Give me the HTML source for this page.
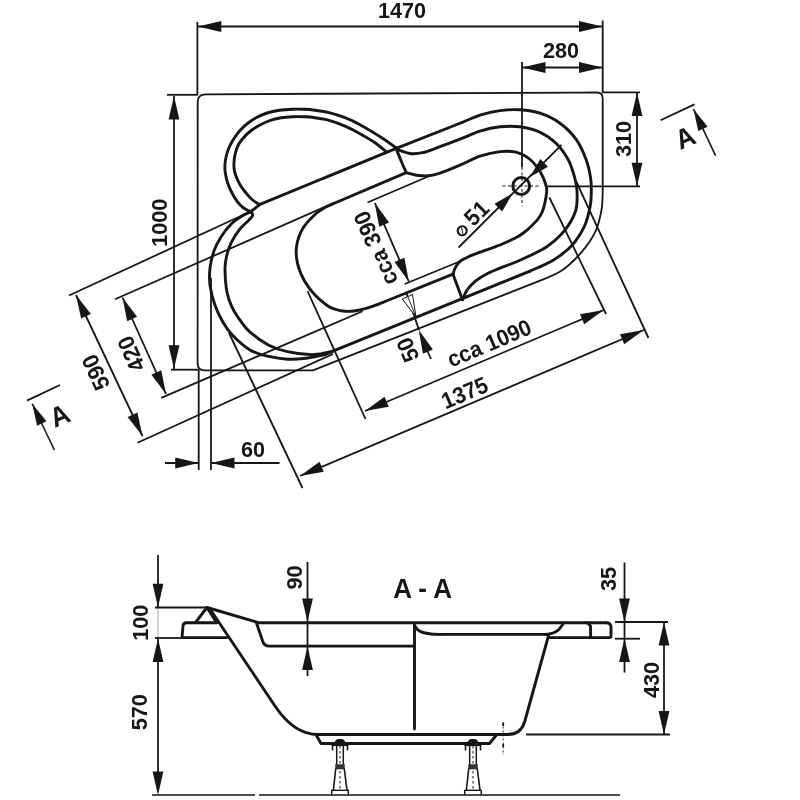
<!DOCTYPE html>
<html><head><meta charset="utf-8"><style>
html,body{margin:0;padding:0;background:#fff;}
svg{display:block;}
text{font-family:"Liberation Sans",sans-serif;font-weight:bold;fill:#161616;}
</style></head><body>
<svg width="800" height="800" viewBox="0 0 800 800">
<defs><filter id="soft" x="0" y="0" width="800" height="800" filterUnits="userSpaceOnUse"><feGaussianBlur stdDeviation="0.5"/></filter></defs>
<rect width="800" height="800" fill="#fff"/>
<g filter="url(#soft)">
<path d="M197.7,102 Q197.7,94.3 205.5,94.3 L597,92.5 Q602.7,92.5 602.7,98.5 L602.7,192 C602.50,195.00 602.70,203.43 601.50,210.00 C600.30,216.57 598.85,224.35 595.50,231.40 C592.15,238.45 587.15,245.70 581.40,252.30 C575.65,258.90 568.73,265.93 561.00,271.00 C553.27,276.07 539.33,280.75 535.00,282.70 L313,370.3 L204.5,370.3 Q197.6,370.3 197.6,363.5 Z" fill="none" stroke="#161616" stroke-width="1.80" stroke-linecap="round" stroke-linejoin="round" />
<path d="M250.50,211.80 C249.42,211.22 246.00,209.73 244.00,208.30 C242.00,206.87 240.37,205.50 238.50,203.20 C236.63,200.90 234.55,197.70 232.80,194.50 C231.05,191.30 229.25,187.58 228.00,184.00 C226.75,180.42 225.80,176.33 225.30,173.00 C224.80,169.67 224.80,167.00 225.00,164.00 C225.20,161.00 225.75,157.92 226.50,155.00 C227.25,152.08 228.25,149.25 229.50,146.50 C230.75,143.75 232.25,141.17 234.00,138.50 C235.75,135.83 237.75,133.00 240.00,130.50 C242.25,128.00 244.75,125.67 247.50,123.50 C250.25,121.33 253.25,119.25 256.50,117.50 C259.75,115.75 263.17,114.20 267.00,113.00 C270.83,111.80 275.25,110.92 279.50,110.30 C283.75,109.67 288.42,109.42 292.50,109.25 C296.58,109.08 300.25,109.14 304.00,109.30 C307.75,109.46 310.67,109.62 315.00,110.20 C319.33,110.78 325.00,111.55 330.00,112.80 C335.00,114.05 340.00,115.72 345.00,117.70 C350.00,119.68 353.75,121.28 360.00,124.70 C366.25,128.12 376.46,134.32 382.50,138.20 C388.54,142.08 393.96,146.37 396.25,148.00" fill="none" stroke="#161616" stroke-width="2.90" stroke-linecap="round" stroke-linejoin="round" />
<path d="M259.50,204.60 C258.25,203.75 254.25,201.43 252.00,199.50 C249.75,197.57 247.92,195.33 246.00,193.00 C244.08,190.67 242.08,188.08 240.50,185.50 C238.92,182.92 237.53,180.08 236.50,177.50 C235.47,174.92 234.72,172.50 234.30,170.00 C233.88,167.50 233.83,165.25 234.00,162.50 C234.17,159.75 234.55,156.50 235.30,153.50 C236.05,150.50 237.10,147.17 238.50,144.50 C239.90,141.83 241.70,139.75 243.70,137.50 C245.70,135.25 247.87,133.05 250.50,131.00 C253.13,128.95 256.25,126.95 259.50,125.20 C262.75,123.45 266.42,121.73 270.00,120.50 C273.58,119.27 277.25,118.42 281.00,117.80 C284.75,117.17 288.67,116.92 292.50,116.75 C296.33,116.58 300.25,116.64 304.00,116.80 C307.75,116.96 310.67,117.07 315.00,117.70 C319.33,118.33 325.00,119.18 330.00,120.60 C335.00,122.02 340.00,124.02 345.00,126.20 C350.00,128.38 355.00,130.95 360.00,133.70 C365.00,136.45 370.58,139.65 375.00,142.70 C379.42,145.75 384.58,150.45 386.50,152.00" fill="none" stroke="#161616" stroke-width="2.90" stroke-linecap="round" stroke-linejoin="round" />
<path d="M250.50,211.80 L260.00,204.40 L396.25,148.30 L462.00,122.50" fill="none" stroke="#161616" stroke-width="2.90" stroke-linecap="round" stroke-linejoin="round" />
<path d="M462.00,122.50 C465.00,121.28 473.67,117.18 480.00,115.20 C486.33,113.22 493.33,111.50 500.00,110.60 C506.67,109.70 513.33,109.37 520.00,109.80 C526.67,110.23 533.33,110.97 540.00,113.20 C546.67,115.43 554.00,118.87 560.00,123.20 C566.00,127.53 571.67,133.20 576.00,139.20 C580.33,145.20 583.58,152.87 586.00,159.20 C588.42,165.53 589.62,171.87 590.50,177.20 C591.38,182.53 591.38,186.20 591.30,191.20 C591.22,196.20 591.22,201.20 590.00,207.20 C588.78,213.20 587.00,220.87 584.00,227.20 C581.00,233.53 577.00,239.78 572.00,245.20 C567.00,250.62 561.00,255.37 554.00,259.70 C547.00,264.03 534.00,269.28 530.00,271.20" fill="none" stroke="#161616" stroke-width="2.90" stroke-linecap="round" stroke-linejoin="round" />
<path d="M530.00,271.20 L331.00,351.80" fill="none" stroke="#161616" stroke-width="2.90" stroke-linecap="round" stroke-linejoin="round" />
<path d="M250.00,212.20 C248.54,212.91 244.38,214.49 241.25,216.45 C238.12,218.41 234.58,220.62 231.25,223.95 C227.92,227.28 224.17,231.87 221.25,236.45 C218.33,241.03 215.62,246.16 213.75,251.45 C211.88,256.74 210.62,262.57 210.00,268.20 C209.38,273.82 209.17,279.03 210.00,285.20 C210.83,291.37 212.83,299.03 215.00,305.20 C217.17,311.37 220.08,317.20 223.00,322.20 C225.92,327.20 228.00,330.58 232.50,335.20 C237.00,339.82 243.96,346.36 250.00,349.90 C256.04,353.44 262.50,354.90 268.75,356.45 C275.00,358.00 281.25,358.91 287.50,359.20 C293.75,359.49 300.00,358.97 306.25,358.20 C312.50,357.43 320.21,355.93 325.00,354.60 C329.79,353.27 333.33,350.93 335.00,350.20" fill="none" stroke="#161616" stroke-width="2.90" stroke-linecap="round" stroke-linejoin="round" />
<path d="M251.90,212.70 C252.00,213.22 253.03,214.55 252.50,215.80 C251.97,217.05 250.83,218.01 248.75,220.20 C246.67,222.39 242.92,225.20 240.00,228.95 C237.08,232.70 233.54,237.91 231.25,242.70 C228.96,247.49 227.29,253.12 226.25,257.70 C225.21,262.28 224.88,264.45 225.00,270.20 C225.12,275.95 225.83,286.03 227.00,292.20 C228.17,298.37 229.83,302.53 232.00,307.20 C234.17,311.87 237.00,316.03 240.00,320.20 C243.00,324.37 245.21,328.03 250.00,332.20 C254.79,336.37 262.50,341.95 268.75,345.20 C275.00,348.45 280.29,350.13 287.50,351.70 C294.71,353.27 304.75,354.58 312.00,354.60 C319.25,354.62 327.83,352.27 331.00,351.80" fill="none" stroke="#161616" stroke-width="2.90" stroke-linecap="round" stroke-linejoin="round" />
<path d="M396.25,149.20 C398.54,149.92 405.62,152.92 410.00,153.50 C414.38,154.08 417.50,153.83 422.50,152.70 C427.50,151.57 433.75,148.95 440.00,146.70 C446.25,144.45 453.33,141.78 460.00,139.20 C466.67,136.62 473.33,133.27 480.00,131.20 C486.67,129.13 493.33,127.53 500.00,126.80 C506.67,126.07 513.33,125.90 520.00,126.80 C526.67,127.70 534.00,129.47 540.00,132.20 C546.00,134.93 551.33,138.70 556.00,143.20 C560.67,147.70 565.00,153.87 568.00,159.20 C571.00,164.53 572.50,169.87 574.00,175.20 C575.50,180.53 576.75,185.20 577.00,191.20 C577.25,197.20 577.67,204.53 575.50,211.20 C573.33,217.87 568.92,225.20 564.00,231.20 C559.08,237.20 553.33,242.37 546.00,247.20 C538.67,252.03 527.67,256.70 520.00,260.20 C512.33,263.70 505.33,266.03 500.00,268.20 C494.67,270.37 492.00,271.12 488.00,273.20 C484.00,275.28 479.50,277.87 476.00,280.70 C472.50,283.53 469.25,287.03 467.00,290.20 C464.75,293.37 463.25,298.12 462.50,299.70" fill="none" stroke="#161616" stroke-width="2.90" stroke-linecap="round" stroke-linejoin="round" />
<path d="M396.25,149.00 C397.08,151.03 399.58,157.25 401.25,161.20 C402.92,165.15 405.42,170.78 406.25,172.70" fill="none" stroke="#161616" stroke-width="2.90" stroke-linecap="round" stroke-linejoin="round" />
<path d="M453.00,274.20 L462.50,299.70" fill="none" stroke="#161616" stroke-width="2.90" stroke-linecap="round" stroke-linejoin="round" />
<path d="M406.25,172.70 C407.92,173.12 412.50,174.68 416.25,175.20 C420.00,175.72 424.79,176.13 428.75,175.80 C432.71,175.47 434.79,174.97 440.00,173.20 C445.21,171.43 453.33,168.03 460.00,165.20 C466.67,162.37 473.33,158.47 480.00,156.20 C486.67,153.93 494.00,152.27 500.00,151.60 C506.00,150.93 511.08,150.97 516.00,152.20 C520.92,153.43 525.42,155.67 529.50,159.00 C533.58,162.33 537.72,167.70 540.50,172.20 C543.28,176.70 545.20,182.50 546.20,186.00 C547.20,189.50 546.65,190.70 546.50,193.20 C546.35,195.70 545.97,198.00 545.30,201.00 C544.63,204.00 543.72,208.20 542.50,211.20 C541.28,214.20 539.88,216.50 538.00,219.00 C536.12,221.50 533.58,223.95 531.25,226.20 C528.92,228.45 526.50,230.62 524.00,232.50 C521.50,234.38 520.25,235.42 516.25,237.50 C512.25,239.58 506.04,242.55 500.00,245.00 C493.96,247.45 485.33,250.20 480.00,252.20 C474.67,254.20 471.25,255.53 468.00,257.00 C464.75,258.47 462.42,259.55 460.50,261.00 C458.58,262.45 457.53,264.20 456.50,265.70 C455.47,267.20 454.88,268.58 454.30,270.00 C453.72,271.42 453.22,273.50 453.00,274.20" fill="none" stroke="#161616" stroke-width="2.90" stroke-linecap="round" stroke-linejoin="round" />
<path d="M453.00,274.20 L385.00,301.50" fill="none" stroke="#161616" stroke-width="2.90" stroke-linecap="round" stroke-linejoin="round" />
<path d="M385.00,301.50 C382.67,302.38 375.67,305.30 371.00,306.80 C366.33,308.30 361.33,309.75 357.00,310.50 C352.67,311.25 348.83,311.58 345.00,311.30 C341.17,311.02 336.96,309.77 334.00,308.80 C331.04,307.83 330.42,307.80 327.25,305.50 C324.08,303.20 318.79,299.08 315.00,295.00 C311.21,290.92 307.42,286.25 304.50,281.00 C301.58,275.75 298.82,269.33 297.50,263.50 C296.18,257.67 295.73,251.83 296.60,246.00 C297.48,240.17 299.68,233.75 302.75,228.50 C305.82,223.25 311.29,218.00 315.00,214.50 C318.71,211.00 322.08,209.25 325.00,207.50 C327.92,205.75 331.25,204.58 332.50,204.00" fill="none" stroke="#161616" stroke-width="2.90" stroke-linecap="round" stroke-linejoin="round" />
<path d="M332.50,204.00 L406.25,172.70" fill="none" stroke="#161616" stroke-width="2.90" stroke-linecap="round" stroke-linejoin="round" />
<circle cx="521.2" cy="186" r="8.4" fill="none" stroke="#161616" stroke-width="3"/>
<line x1="522.00" y1="62.00" x2="522.00" y2="167.00" stroke="#161616" stroke-width="1.80" />
<line x1="522.00" y1="167.00" x2="522.00" y2="206.00" stroke="#161616" stroke-width="1.00" stroke-dasharray="3,2.5"/>
<line x1="502.50" y1="186.00" x2="541.00" y2="186.00" stroke="#161616" stroke-width="1.00" stroke-dasharray="3,2.5"/>
<line x1="197.40" y1="22.00" x2="197.40" y2="95.00" stroke="#161616" stroke-width="1.80" />
<line x1="602.70" y1="20.50" x2="602.70" y2="93.00" stroke="#161616" stroke-width="1.80" />
<line x1="197.80" y1="26.50" x2="602.50" y2="26.50" stroke="#161616" stroke-width="1.80" />
<polygon points="197.80,26.50 221.30,21.10 221.30,31.90" fill="#161616"/>
<polygon points="602.50,26.50 579.00,31.90 579.00,21.10" fill="#161616"/>
<text x="0" y="7.88" transform="translate(402.00,9.50) rotate(0.00) scale(0.985,1.045)" font-size="22.0" text-anchor="middle" letter-spacing="0.00">1470</text>
<line x1="522.00" y1="67.50" x2="602.50" y2="67.50" stroke="#161616" stroke-width="1.80" />
<polygon points="522.00,67.50 545.50,62.10 545.50,72.90" fill="#161616"/>
<polygon points="602.50,67.50 579.00,72.90 579.00,62.10" fill="#161616"/>
<text x="0" y="7.88" transform="translate(561.00,50.00) rotate(0.00) scale(0.985,1.045)" font-size="22.0" text-anchor="middle" letter-spacing="0.00">280</text>
<line x1="602.00" y1="92.30" x2="640.00" y2="92.30" stroke="#161616" stroke-width="1.80" />
<line x1="547.50" y1="186.30" x2="640.00" y2="186.30" stroke="#161616" stroke-width="1.80" />
<line x1="637.00" y1="92.50" x2="637.00" y2="186.30" stroke="#161616" stroke-width="1.80" />
<polygon points="637.00,92.50 642.40,116.00 631.60,116.00" fill="#161616"/>
<polygon points="637.00,186.30 631.60,162.80 642.40,162.80" fill="#161616"/>
<text x="0" y="7.88" transform="translate(622.70,139.00) rotate(-90.00) scale(0.985,1.045)" font-size="22.0" text-anchor="middle" letter-spacing="0.00">310</text>
<line x1="167.00" y1="94.80" x2="198.00" y2="94.80" stroke="#161616" stroke-width="1.80" />
<line x1="171.00" y1="369.70" x2="198.00" y2="369.70" stroke="#161616" stroke-width="1.80" />
<line x1="174.00" y1="96.00" x2="174.00" y2="369.00" stroke="#161616" stroke-width="1.80" />
<polygon points="174.00,96.00 179.40,119.50 168.60,119.50" fill="#161616"/>
<polygon points="174.00,368.70 168.60,345.20 179.40,345.20" fill="#161616"/>
<text x="0" y="7.88" transform="translate(159.00,222.70) rotate(-90.00) scale(0.985,1.045)" font-size="22.0" text-anchor="middle" letter-spacing="0.00">1000</text>
<line x1="69.00" y1="295.50" x2="250.00" y2="211.80" stroke="#161616" stroke-width="1.80" />
<line x1="137.50" y1="442.80" x2="333.00" y2="354.00" stroke="#161616" stroke-width="1.80" />
<line x1="76.00" y1="295.00" x2="142.50" y2="436.00" stroke="#161616" stroke-width="1.80" />
<polygon points="76.00,295.00 90.91,313.95 81.14,318.56" fill="#161616"/>
<polygon points="142.50,436.00 127.59,417.05 137.36,412.44" fill="#161616"/>
<text x="0" y="7.88" transform="translate(95.50,372.50) rotate(-115.00) scale(0.985,1.045)" font-size="22.0" text-anchor="middle" letter-spacing="0.00">590</text>
<line x1="115.00" y1="299.30" x2="333.00" y2="203.30" stroke="#161616" stroke-width="1.80" />
<line x1="161.25" y1="397.80" x2="362.50" y2="311.25" stroke="#161616" stroke-width="1.80" />
<line x1="122.50" y1="297.50" x2="166.00" y2="394.00" stroke="#161616" stroke-width="1.80" />
<polygon points="122.50,297.50 137.08,316.70 127.23,321.14" fill="#161616"/>
<polygon points="166.00,394.00 151.42,374.80 161.27,370.36" fill="#161616"/>
<text x="0" y="7.88" transform="translate(131.00,354.00) rotate(-115.00) scale(0.985,1.045)" font-size="22.0" text-anchor="middle" letter-spacing="0.00">420</text>
<line x1="229.00" y1="333.00" x2="302.50" y2="488.00" stroke="#161616" stroke-width="1.80" />
<line x1="576.00" y1="181.00" x2="648.50" y2="338.00" stroke="#161616" stroke-width="1.80" />
<line x1="300.00" y1="476.00" x2="643.75" y2="330.00" stroke="#161616" stroke-width="1.80" />
<polygon points="300.00,476.00 319.52,461.84 323.74,471.78" fill="#161616"/>
<polygon points="643.75,330.00 624.23,344.16 620.01,334.22" fill="#161616"/>
<text x="0" y="7.88" transform="translate(464.50,392.50) rotate(-23.00) scale(0.985,1.045)" font-size="22.0" text-anchor="middle" letter-spacing="0.00">1375</text>
<line x1="307.50" y1="291.00" x2="365.50" y2="419.00" stroke="#161616" stroke-width="1.80" />
<line x1="549.40" y1="197.50" x2="606.00" y2="314.00" stroke="#161616" stroke-width="1.80" />
<line x1="365.00" y1="411.00" x2="603.75" y2="310.00" stroke="#161616" stroke-width="1.80" />
<polygon points="365.00,411.00 384.54,396.87 388.75,406.82" fill="#161616"/>
<polygon points="603.75,310.00 584.21,324.13 580.00,314.18" fill="#161616"/>
<text x="0" y="7.77" transform="translate(489.00,343.00) rotate(-23.00) scale(0.985,1.045)" font-size="21.7" text-anchor="middle" letter-spacing="0.00">cca 1090</text>
<line x1="367.50" y1="202.50" x2="428.75" y2="176.25" stroke="#161616" stroke-width="1.80" />
<line x1="404.70" y1="284.00" x2="459.50" y2="261.50" stroke="#161616" stroke-width="1.80" />
<line x1="374.80" y1="203.00" x2="408.80" y2="281.50" stroke="#161616" stroke-width="1.80" />
<polygon points="374.80,203.00 389.10,222.42 379.18,226.71" fill="#161616"/>
<polygon points="408.80,281.50 394.50,262.08 404.42,257.79" fill="#161616"/>
<text x="0" y="7.88" transform="translate(375.50,248.30) rotate(-113.40) scale(0.985,1.045)" font-size="22.0" text-anchor="middle" letter-spacing="0.00">cca 390</text>
<line x1="458.50" y1="247.50" x2="561.50" y2="144.80" stroke="#161616" stroke-width="1.80" />
<polygon points="512.50,193.50 502.18,211.46 494.54,203.82" fill="#161616"/>
<polygon points="530.00,177.00 540.32,159.04 547.96,166.68" fill="#161616"/>
<g transform="translate(472.5,220) rotate(-45)"><circle cx="-14.9" cy="0.35" r="4.5" fill="none" stroke="#161616" stroke-width="2.1"/><line x1="-17.5" y1="4.6" x2="-12.3" y2="-3.9" stroke="#161616" stroke-width="0.9"/><text x="7.9" y="5.58" font-size="22" text-anchor="middle" transform="scale(0.985,1.045)">51</text></g>
<line x1="406.00" y1="292.00" x2="419.00" y2="330.00" stroke="#161616" stroke-width="1.80" />
<polygon points="416.00,317.00 402.35,298.89 412.48,294.60" fill="#fff" stroke="#161616" stroke-width="1"/>
<line x1="406.00" y1="292.00" x2="416.00" y2="317.00" stroke="#161616" stroke-width="0.90" />
<polygon points="418.75,330.00 432.89,349.53 422.95,353.74" fill="#161616"/>
<line x1="427.00" y1="350.00" x2="431.00" y2="359.00" stroke="#161616" stroke-width="1.80" />
<text x="0" y="7.88" transform="translate(407.50,350.00) rotate(-113.00) scale(0.985,1.045)" font-size="22.0" text-anchor="middle" letter-spacing="0.00">50</text>
<line x1="198.70" y1="369.00" x2="198.70" y2="470.00" stroke="#161616" stroke-width="1.80" />
<line x1="211.00" y1="278.00" x2="211.00" y2="470.00" stroke="#161616" stroke-width="1.80" />
<line x1="165.00" y1="463.00" x2="198.70" y2="463.00" stroke="#161616" stroke-width="1.80" />
<line x1="211.00" y1="463.00" x2="279.50" y2="463.00" stroke="#161616" stroke-width="1.80" />
<polygon points="198.70,463.00 175.20,468.40 175.20,457.60" fill="#161616"/>
<polygon points="211.00,463.00 234.50,457.60 234.50,468.40" fill="#161616"/>
<text x="0" y="7.88" transform="translate(253.00,448.50) rotate(0.00) scale(0.985,1.045)" font-size="22.0" text-anchor="middle" letter-spacing="0.00">60</text>
<line x1="660.60" y1="120.25" x2="694.40" y2="104.40" stroke="#161616" stroke-width="1.80" />
<line x1="693.50" y1="109.00" x2="715.60" y2="155.60" stroke="#161616" stroke-width="1.60" />
<polygon points="693.50,109.00 707.63,126.65 698.23,131.11" fill="#161616"/>
<text x="0" y="9.49" transform="translate(685.00,137.30) rotate(-23.00) scale(0.985,1.045)" font-size="26.5" text-anchor="middle" letter-spacing="0.00">A</text>
<line x1="26.90" y1="400.60" x2="60.00" y2="385.00" stroke="#161616" stroke-width="1.80" />
<line x1="32.25" y1="403.75" x2="54.40" y2="450.00" stroke="#161616" stroke-width="1.60" />
<polygon points="32.25,403.75 46.44,421.35 37.06,425.84" fill="#161616"/>
<text x="0" y="9.49" transform="translate(59.50,415.20) rotate(-23.00) scale(0.985,1.045)" font-size="26.5" text-anchor="middle" letter-spacing="0.00">A</text>
<text x="0" y="9.49" transform="translate(422.60,588.50) rotate(0.00) scale(0.985,1.045)" font-size="26.5" text-anchor="middle" letter-spacing="0.00">A - A</text>
<path d="M195.60,622.30 L207.00,607.50 L216.50,622.50" fill="none" stroke="#161616" stroke-width="2.90" stroke-linecap="round" stroke-linejoin="round" />
<path d="M217,622.8 L186.5,622.8 Q183.2,622.8 183,626 L182,637.6 L227,637.6" fill="none" stroke="#161616" stroke-width="2.90" stroke-linecap="round" stroke-linejoin="round" />
<path d="M207.00,607.50 L256.00,621.80 L258.00,622.80 L606.00,622.80" fill="none" stroke="#161616" stroke-width="2.90" stroke-linecap="round" stroke-linejoin="round" />
<path d="M606,622.8 Q611,622.8 611,627 L611,635.8 Q611,637.6 609.2,637.6 L549,637.6" fill="none" stroke="#161616" stroke-width="2.90" stroke-linecap="round" stroke-linejoin="round" />
<path d="M209.5,608.3 L275,706 C287,724 302,734.5 318,734.5" fill="none" stroke="#161616" stroke-width="2.90" stroke-linecap="round" stroke-linejoin="round" />
<path d="M318,734.5 L508,734.5 C517,734.5 522,730 524.6,722 L548.7,635" fill="none" stroke="#161616" stroke-width="2.90" stroke-linecap="round" stroke-linejoin="round" />
<path d="M256.5,623 L262.6,641 Q264,646.1 269,646.1 L413,646.1" fill="none" stroke="#161616" stroke-width="2.90" stroke-linecap="round" stroke-linejoin="round" />
<path d="M414.50,625.00 L414.50,729.00" fill="none" stroke="#161616" stroke-width="2.90" stroke-linecap="round" stroke-linejoin="round" />
<path d="M414.50,625.50 C415.00,626.20 416.08,628.53 417.50,629.70 C418.92,630.87 420.75,631.78 423.00,632.50 C425.25,633.22 428.17,633.68 431.00,634.00 C433.83,634.32 438.50,634.33 440.00,634.40" fill="none" stroke="#161616" stroke-width="2.90" stroke-linecap="round" stroke-linejoin="round" />
<path d="M440.00,634.40 L546.00,634.40" fill="none" stroke="#161616" stroke-width="2.90" stroke-linecap="round" stroke-linejoin="round" />
<path d="M546.00,634.40 C547.17,634.17 550.92,633.77 553.00,633.00 C555.08,632.23 557.00,631.05 558.50,629.80 C560.00,628.55 561.17,626.63 562.00,625.50 C562.83,624.37 563.25,623.42 563.50,623.00" fill="none" stroke="#161616" stroke-width="2.90" stroke-linecap="round" stroke-linejoin="round" />
<path d="M586.3,622.8 Q590.6,623.5 590.6,628.5 L590.6,637.5" fill="none" stroke="#161616" stroke-width="2.90" stroke-linecap="round" stroke-linejoin="round" />
<path d="M316.50,735.50 L321.00,743.50 L489.50,743.50 L496.00,735.50" fill="none" stroke="#161616" stroke-width="2.90" stroke-linecap="round" stroke-linejoin="round" />
<path d="M334.2,744 Q335.0,738.3 340.0,739 Q345.0,738.3 345.8,744 Z" fill="#161616"/>
<line x1="331.50" y1="745.30" x2="348.50" y2="745.30" stroke="#161616" stroke-width="1.60" />
<line x1="332.50" y1="745.00" x2="332.50" y2="750.50" stroke="#161616" stroke-width="1.50" />
<line x1="347.50" y1="745.00" x2="347.50" y2="750.50" stroke="#161616" stroke-width="1.50" />
<line x1="336.70" y1="745.00" x2="336.70" y2="766.00" stroke="#161616" stroke-width="1.50" />
<line x1="343.30" y1="745.00" x2="343.30" y2="766.00" stroke="#161616" stroke-width="1.50" />
<line x1="340.00" y1="746.00" x2="340.00" y2="790.00" stroke="#161616" stroke-width="1.00" stroke-dasharray="2.5,2.5"/>
<rect x="335.2" y="764.3" width="9.6" height="5" fill="#333"/>
<path d="M335.7,769 L333.4,790 M344.3,769 L347.0,790" fill="none" stroke="#161616" stroke-width="1.60" stroke-linecap="round" stroke-linejoin="round" />
<line x1="331.50" y1="790.30" x2="348.50" y2="790.30" stroke="#161616" stroke-width="1.40" />
<line x1="331.70" y1="790.00" x2="331.70" y2="795.00" stroke="#161616" stroke-width="1.50" />
<line x1="348.30" y1="790.00" x2="348.30" y2="795.00" stroke="#161616" stroke-width="1.50" />
<path d="M467.2,744 Q468.0,738.3 473.0,739 Q478.0,738.3 478.8,744 Z" fill="#161616"/>
<line x1="464.50" y1="745.30" x2="481.50" y2="745.30" stroke="#161616" stroke-width="1.60" />
<line x1="465.50" y1="745.00" x2="465.50" y2="750.50" stroke="#161616" stroke-width="1.50" />
<line x1="480.50" y1="745.00" x2="480.50" y2="750.50" stroke="#161616" stroke-width="1.50" />
<line x1="469.70" y1="745.00" x2="469.70" y2="766.00" stroke="#161616" stroke-width="1.50" />
<line x1="476.30" y1="745.00" x2="476.30" y2="766.00" stroke="#161616" stroke-width="1.50" />
<line x1="473.00" y1="746.00" x2="473.00" y2="790.00" stroke="#161616" stroke-width="1.00" stroke-dasharray="2.5,2.5"/>
<rect x="468.2" y="764.3" width="9.6" height="5" fill="#333"/>
<path d="M468.7,769 L466.4,790 M477.3,769 L480.0,790" fill="none" stroke="#161616" stroke-width="1.60" stroke-linecap="round" stroke-linejoin="round" />
<line x1="464.50" y1="790.30" x2="481.50" y2="790.30" stroke="#161616" stroke-width="1.40" />
<line x1="464.70" y1="790.00" x2="464.70" y2="795.00" stroke="#161616" stroke-width="1.50" />
<line x1="481.30" y1="790.00" x2="481.30" y2="795.00" stroke="#161616" stroke-width="1.50" />
<line x1="152.00" y1="795.00" x2="255.00" y2="795.00" stroke="#161616" stroke-width="1.60" />
<line x1="259.00" y1="795.00" x2="620.00" y2="795.00" stroke="#161616" stroke-width="1.60" />
<line x1="503.20" y1="722.50" x2="503.20" y2="755.00" stroke="#161616" stroke-width="0.90" stroke-dasharray="2,2"/>
<line x1="503.20" y1="722.50" x2="503.20" y2="726.00" stroke="#161616" stroke-width="1.80" />
<line x1="503.20" y1="744.00" x2="503.20" y2="747.00" stroke="#161616" stroke-width="1.80" />
<line x1="526.00" y1="734.50" x2="670.00" y2="734.50" stroke="#161616" stroke-width="1.80" />
<line x1="158.00" y1="555.00" x2="158.00" y2="607.00" stroke="#161616" stroke-width="1.80" />
<polygon points="158.00,607.30 152.60,583.80 163.40,583.80" fill="#161616"/>
<line x1="155.00" y1="607.50" x2="207.00" y2="607.50" stroke="#161616" stroke-width="1.80" />
<line x1="158.00" y1="607.00" x2="158.00" y2="638.00" stroke="#161616" stroke-width="0.80" stroke-opacity="0.45"/>
<line x1="155.00" y1="638.00" x2="181.00" y2="638.00" stroke="#161616" stroke-width="1.80" />
<line x1="158.00" y1="638.00" x2="158.00" y2="780.00" stroke="#161616" stroke-width="1.80" />
<polygon points="158.00,638.50 163.40,662.00 152.60,662.00" fill="#161616"/>
<polygon points="158.00,795.00 152.60,771.50 163.40,771.50" fill="#161616"/>
<text x="0" y="7.88" transform="translate(139.80,622.80) rotate(-90.00) scale(0.985,1.045)" font-size="22.0" text-anchor="middle" letter-spacing="0.00">100</text>
<text x="0" y="7.88" transform="translate(138.80,712.30) rotate(-90.00) scale(0.985,1.045)" font-size="22.0" text-anchor="middle" letter-spacing="0.00">570</text>
<line x1="307.50" y1="562.00" x2="307.50" y2="676.00" stroke="#161616" stroke-width="1.80" />
<polygon points="307.50,622.00 302.10,598.50 312.90,598.50" fill="#161616"/>
<polygon points="307.50,646.50 312.90,670.00 302.10,670.00" fill="#161616"/>
<text x="0" y="7.88" transform="translate(294.00,577.50) rotate(-90.00) scale(0.985,1.045)" font-size="22.0" text-anchor="middle" letter-spacing="0.00">90</text>
<line x1="624.50" y1="562.50" x2="624.50" y2="672.50" stroke="#161616" stroke-width="1.80" />
<polygon points="624.50,622.00 619.10,598.50 629.90,598.50" fill="#161616"/>
<polygon points="624.50,638.50 629.90,662.00 619.10,662.00" fill="#161616"/>
<line x1="615.00" y1="622.00" x2="668.00" y2="622.00" stroke="#161616" stroke-width="1.80" />
<line x1="615.00" y1="638.70" x2="640.00" y2="638.70" stroke="#161616" stroke-width="1.80" />
<text x="0" y="7.88" transform="translate(607.50,579.00) rotate(-90.00) scale(0.985,1.045)" font-size="22.0" text-anchor="middle" letter-spacing="0.00">35</text>
<line x1="664.00" y1="622.00" x2="664.00" y2="734.50" stroke="#161616" stroke-width="1.80" />
<polygon points="664.00,622.00 669.40,645.50 658.60,645.50" fill="#161616"/>
<polygon points="664.00,734.50 658.60,711.00 669.40,711.00" fill="#161616"/>
<text x="0" y="7.88" transform="translate(651.00,680.00) rotate(-90.00) scale(0.985,1.045)" font-size="22.0" text-anchor="middle" letter-spacing="0.00">430</text>
</g>
</svg></body></html>
